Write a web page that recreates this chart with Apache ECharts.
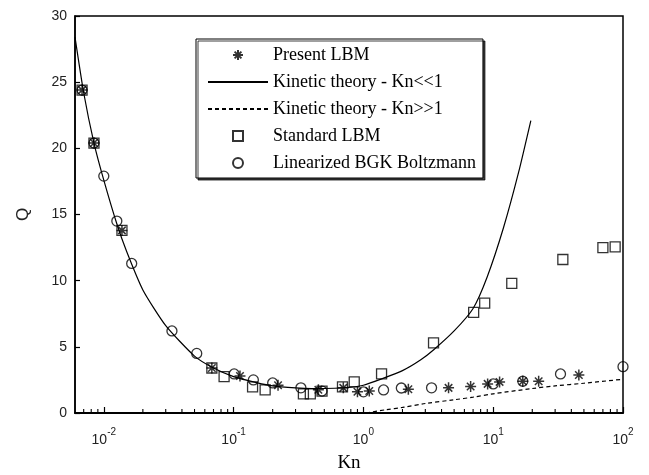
<!DOCTYPE html>
<html>
<head>
<meta charset="utf-8">
<script src="https://cdn.jsdelivr.net/npm/echarts@6/dist/echarts.min.js"></script>
<style>
  html, body { margin: 0; padding: 0; background: #fff; }
  #chart { width: 649px; height: 475px; }
</style>
</head>
<body>
<div id="chart"></div>
<script>
// Present LBM (asterisks)
const lbmKn = [0.0068, 0.0084, 0.0138, 0.068, 0.112, 0.22, 0.45, 0.70, 0.9, 1.11, 2.22, 4.53, 6.7, 9.06, 11.2, 16.9, 22.4, 45.7];
const lbmQ  = [24.4, 20.4, 13.8, 3.4, 2.8, 2.1, 1.75, 1.9, 1.6, 1.66, 1.8, 1.9, 2.0, 2.2, 2.35, 2.4, 2.4, 2.87];

// Standard LBM (squares)
const stdKn = [0.0068, 0.0084, 0.0138, 0.068, 0.0845, 0.14, 0.175, 0.345, 0.39, 0.48, 0.69, 0.85, 1.38, 3.47, 7.07, 8.6, 13.9, 34.4, 70, 87];
const stdQ  = [24.4, 20.4, 13.8, 3.4, 2.75, 1.97, 1.74, 1.44, 1.44, 1.66, 1.97, 2.35, 2.95, 5.3, 7.6, 8.3, 9.8, 11.6, 12.5, 12.55];

// Linearized BGK Boltzmann (circles)
const bgkKn = [0.0068, 0.0084, 0.01, 0.0126, 0.0164, 0.0335, 0.052, 0.101, 0.142, 0.2, 0.33, 0.48, 1.0, 1.43, 1.96, 3.35, 10, 16.9, 33, 100];
const bgkQ  = [24.4, 20.4, 17.9, 14.5, 11.3, 6.2, 4.5, 2.95, 2.5, 2.27, 1.9, 1.66, 1.6, 1.74, 1.89, 1.9, 2.2, 2.4, 2.95, 3.5];

// Kinetic theory, Kn << 1 (solid)
const smallKn = [0.006, 0.007, 0.0084, 0.01, 0.0126, 0.015, 0.02, 0.03, 0.05, 0.07, 0.1, 0.15, 0.2, 0.3, 0.4, 0.6, 0.8, 1.0, 1.4, 2.0, 2.75, 3.5, 5.0, 7.0, 9.0, 12.0, 15.7, 19.5];
const smallQ  = [28.4, 24.2, 20.4, 17.6, 14.3, 12.2, 9.3, 6.6, 4.3, 3.4, 2.75, 2.3, 2.05, 1.9, 1.85, 1.87, 1.95, 2.1, 2.6, 3.2, 4.0, 4.8, 6.2, 7.9, 10.3, 14.0, 18.2, 22.1];

// Kinetic theory, Kn >> 1 (dashed)
const largeKn = [1.05, 1.5, 2, 3, 5, 7, 10, 20, 30, 50, 100];
const largeQ  = [0, 0.25, 0.42, 0.72, 1.0, 1.2, 1.45, 1.85, 2.05, 2.25, 2.55];

// minor tick positions on the log axis
const minorTicks = [0.007, 0.008, 0.009,
  0.02, 0.03, 0.04, 0.05, 0.06, 0.07, 0.08, 0.09,
  0.2, 0.3, 0.4, 0.5, 0.6, 0.7, 0.8, 0.9,
  2, 3, 4, 5, 6, 7, 8, 9,
  20, 30, 40, 50, 60, 70, 80, 90];

const names = ["Present LBM", "Kinetic theory - Kn<<1", "Kinetic theory - Kn>>1", "Standard LBM", "Linearized BGK Boltzmann"];
const pairs = (xs, ys) => xs.map((x, i) => [x, ys[i]]);

const starPath = "path://M5,0L5,10M0,5L10,5M1.6,1.6L8.4,8.4M8.4,1.6L1.6,8.4";
const squarePath = "path://M0,0L10,0L10,10L0,10Z";
const hollow = { color: "transparent", borderColor: "#000", borderWidth: 1.3 };
const noMark = { color: "transparent", borderWidth: 0 };

const chart = echarts.init(document.getElementById("chart"), null, { renderer: "canvas" });
chart.setOption({
  animation: false,
  backgroundColor: "#fff",
  grid: {
    left: 75, right: 26, top: 16, bottom: 62, outerBoundsMode: "none",
    show: true, borderColor: "#000", borderWidth: 1.5,
  },
  legend: {
    data: names,
    orient: "vertical",
    left: 196, top: 39,
    itemWidth: 60, itemHeight: 10, itemGap: 9,
    padding: [7, 7, 6, 11],
    backgroundColor: "#fff",
    borderColor: "#000", borderWidth: 1,
    shadowColor: "rgba(0,0,0,0.75)", shadowOffsetX: 2, shadowOffsetY: 2, shadowBlur: 0,
    textStyle: { fontFamily: "Liberation Serif", fontSize: 18, color: "#000", lineHeight: 16 },
    selectedMode: false,
  },
  xAxis: {
    type: "log", logBase: 10, min: 0.006, max: 100,
    name: "Kn", nameLocation: "middle", nameGap: 41,
    nameTextStyle: { fontFamily: "Liberation Serif", fontSize: 19, color: "#000" },
    axisLine: { lineStyle: { color: "#000", width: 1.8 } },
    axisTick: { inside: true, length: 6, lineStyle: { color: "#000", width: 1.2 } },
    splitLine: { show: false },
    axisLabel: {
      margin: 14, showMinLabel: false,
      formatter: v => "{b|10}{s|" + Math.round(Math.log10(v)) + "}",
      rich: {
        b: { fontFamily: "Liberation Sans", fontSize: 14, color: "#222", padding: [6, 0, 0, 0] },
        s: { fontFamily: "Liberation Sans", fontSize: 10, color: "#222", verticalAlign: "top" },
      },
    },
  },
  yAxis: {
    type: "value", min: 0, max: 30, interval: 5,
    name: "Q", nameLocation: "middle", nameGap: 43,
    nameTextStyle: { fontFamily: "Liberation Sans", fontSize: 17, color: "#222" },
    axisLine: { show: true, lineStyle: { color: "#000", width: 1.5 } },
    axisTick: { inside: true, length: 5, lineStyle: { color: "#000", width: 1.2 } },
    splitLine: { show: false },
    axisLabel: { margin: 8, fontFamily: "Liberation Sans", fontSize: 14, color: "#222" },
  },
  series: [
    {
      name: names[0], type: "scatter", data: pairs(lbmKn, lbmQ),
      symbol: starPath, symbolSize: 11, itemStyle: { ...hollow, borderWidth: 1.5 },
    },
    {
      name: names[1], type: "line", data: pairs(smallKn, smallQ),
      smooth: 0.2, symbol: "none", itemStyle: noMark, lineStyle: { color: "#000", width: 1.2 },
    },
    {
      name: names[2], type: "line", data: pairs(largeKn, largeQ),
      smooth: 0.3, symbol: "none", itemStyle: noMark, lineStyle: { color: "#000", width: 1.2, type: [4, 3] },
    },
    {
      name: names[3], type: "scatter", data: pairs(stdKn, stdQ),
      symbol: squarePath, symbolSize: 10, itemStyle: hollow,
    },
    {
      name: names[4], type: "scatter", data: pairs(bgkKn, bgkQ),
      symbol: "circle", symbolSize: 10, itemStyle: hollow,
    },
    {
      type: "custom", silent: true, data: minorTicks.map(k => [k, 0]),
      renderItem: (params, api) => {
        const p = api.coord([api.value(0), 0]);
        return { type: "line", shape: { x1: p[0], y1: p[1], x2: p[0], y2: p[1] - 4 },
                 style: { stroke: "#000", lineWidth: 1.1 } };
      },
    },
  ],
});
</script>
</body>
</html>
